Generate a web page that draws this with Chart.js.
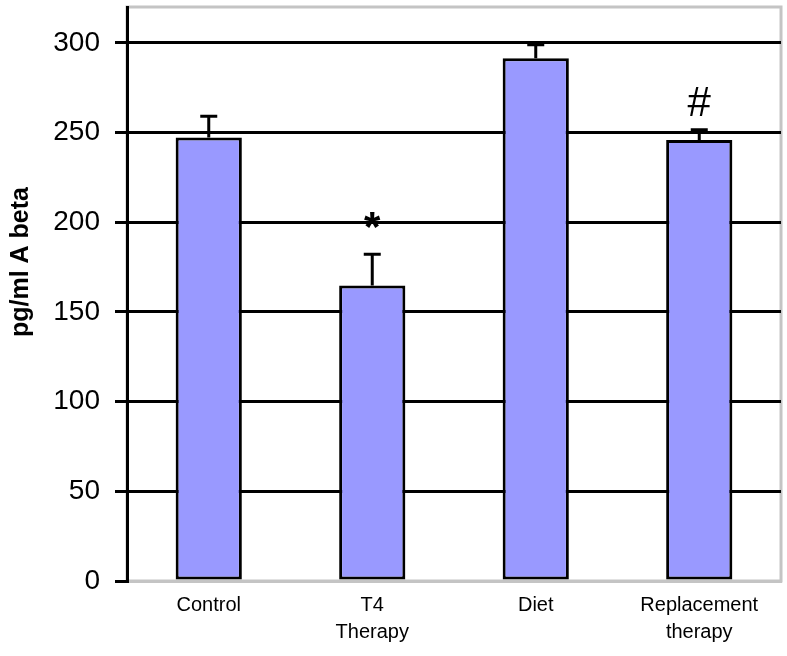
<!DOCTYPE html>
<html lang="en">
<head>
  <meta charset="UTF-8" />
  <title>pg/ml A beta</title>
  <script src="https://cdn.jsdelivr.net/npm/chart.js"></script>
  <style>
    body {
      margin: 0;
      background-color: #fff;
    }
    .wrap {
      width: 787px;
      height: 656px;
    }
  </style>
</head>
<body>
  <div class="wrap">
    <canvas id="betaChart" width="787" height="656"></canvas>
  </div>

  <script>
    const categories = ['Control', ['T4', 'Therapy'], 'Diet', ['Replacement', 'therapy']];
    const means = [247.3, 164.7, 291.4, 245.9];
    const errors = [11.8, 17.5, 7.5, 5.6];
    const marks = ['', '*', '', '#'];
    const yTicks = [0, 50, 100, 150, 200, 250, 300];
    const yTitle = 'pg/ml A beta';

    const FONT = "'Liberation Sans', Arial, sans-serif";

    // light grey frame round the plot area, drawn under the grid
    const framePlugin = {
      id: 'frame',
      beforeDraw(chart) {
        const { ctx, chartArea: a } = chart;
        ctx.save();
        ctx.strokeStyle = '#c4c4c4';
        ctx.lineWidth = 3;
        ctx.strokeRect(a.left, a.top, a.right - a.left, a.bottom - a.top);
        ctx.restore();
      }
    };

    // upper error bars, significance marks and the axis title
    const errorPlugin = {
      id: 'errorBars',
      afterDatasetsDraw(chart) {
        const { ctx, scales: { x, y } } = chart;
        ctx.save();
        ctx.strokeStyle = '#000';
        ctx.lineWidth = 3;
        means.forEach((m, i) => {
          const px = x.getPixelForValue(i);
          const top = y.getPixelForValue(m);
          const cap = y.getPixelForValue(m + errors[i]);
          ctx.beginPath();
          ctx.moveTo(px, top);
          ctx.lineTo(px, cap);
          ctx.moveTo(px - 8.5, cap);
          ctx.lineTo(px + 8.5, cap);
          ctx.stroke();

          if (marks[i]) {
            ctx.fillStyle = '#000';
            ctx.textAlign = 'center';
            ctx.textBaseline = 'middle';
            if (marks[i] === '*') {
              ctx.font = 'bold 42px ' + FONT;
            } else {
              ctx.font = '42px ' + FONT;
            }
            ctx.fillText(marks[i], px, cap - 25);
          }
        });

        // y title sits a little above the middle of the axis
        ctx.translate(21, 262);
        ctx.rotate(-Math.PI / 2);
        ctx.font = 'bold 25px ' + FONT;
        ctx.fillStyle = '#000';
        ctx.textAlign = 'center';
        ctx.textBaseline = 'middle';
        ctx.fillText(yTitle, 0, 0);
        ctx.restore();
      }
    };

    new Chart(document.getElementById('betaChart'), {
      type: 'bar',
      data: {
        labels: categories,
        datasets: [{
          data: means,
          backgroundColor: '#9999ff',
          borderColor: '#000',
          borderWidth: 3,
          borderSkipped: false,
          categoryPercentage: 1,
          barPercentage: 0.405
        }]
      },
      options: {
        responsive: false,
        animation: false,
        layout: { padding: { top: 7, right: 6, left: 0, bottom: 0 } },
        plugins: {
          legend: { display: false },
          tooltip: { enabled: false }
        },
        scales: {
          x: {
            afterFit: scale => {
              scale.height = 75;
              scale.paddingLeft = 0;
              scale.paddingRight = 0;
            },
            grid: { display: false, drawTicks: false },
            border: { color: '#c4c4c4', width: 3 },
            ticks: {
              autoSkip: false,
              maxRotation: 0,
              padding: 11,
              color: '#000',
              font: { family: FONT, size: 20, lineHeight: 1.35 }
            }
          },
          y: {
            min: 0,
            max: 320,
            afterBuildTicks: scale => { scale.ticks = yTicks.map(v => ({ value: v })); },
            afterFit: scale => {
              scale.width = 127;
              scale.paddingTop = 0;
              scale.paddingBottom = 0;
            },
            grid: {
              color: ctx => (ctx.tick && ctx.tick.value === 0) ? '#c4c4c4' : '#000',
              tickColor: '#000',
              lineWidth: 3,
              tickLength: 12
            },
            border: { color: '#000', width: 3 },
            ticks: {
              padding: 15,
              color: '#000',
              font: { family: FONT, size: 28 }
            }
          }
        }
      },
      plugins: [framePlugin, errorPlugin]
    });
  </script>
</body>
</html>
